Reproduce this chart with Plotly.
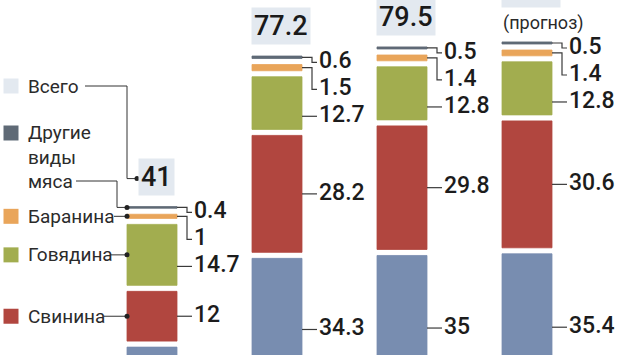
import plotly.graph_objects as go

# ---------------- data ----------------
bars = ["1", "2", "3", "4"]
poultry = [12.9, 34.3, 35.0, 35.4]      # bottom (blue)
pork = [12.0, 28.2, 29.8, 30.6]         # Свинина
beef = [14.7, 12.7, 12.8, 12.8]         # Говядина
lamb = [1.0, 1.5, 1.4, 1.4]             # Баранина
other = [0.4, 0.6, 0.5, 0.5]            # Другие виды мяса
totals = ["41", "77.2", "79.5", "80.7"]
notes = ["", "", "", "(прогноз)"]
value_labels = {
    "poultry": ["12.9", "34.3", "35", "35.4"],
    "pork": ["12", "28.2", "29.8", "30.6"],
    "beef": ["14.7", "12.7", "12.8", "12.8"],
    "lamb": ["1", "1.5", "1.4", "1.4"],
    "other": ["0.4", "0.6", "0.5", "0.5"],
}
legend_names = ["Всего", "Другие<br>виды<br>мяса", "Баранина", "Говядина", "Свинина"]

# ---------------- styles / geometry ----------------
W, H = 630, 355
X_RANGE = [-1.216, 3.824]
Y_RANGE = [11.0, 96.6]
kx = W / (X_RANGE[1] - X_RANGE[0])
ky = H / (Y_RANGE[1] - Y_RANGE[0])


def px2x(p):
    return X_RANGE[0] + p / kx


def py2y(p):
    return Y_RANGE[1] - p / ky


def dx(p):
    return p / kx


def dy(p):
    return p / ky


BAR_W = 0.4
GAP = dy(6)
FONT = "Roboto"
C_TOTAL = "#e3e9f0"
series = [
    ("poultry", poultry, "#788db0"),
    ("pork", pork, "#b1463f"),
    ("beef", beef, "#a2ad4f"),
    ("lamb", lamb, "#e9a55a"),
    ("other", other, "#5f6a76"),
]
xs = list(range(len(bars)))

fig = go.Figure()

# stacked bars with white gaps
bases = {}
tops = []
for i in xs:
    acc = 0.0
    for j, (key, vals, col) in enumerate(series):
        bases.setdefault(key, []).append(acc)
        acc += vals[i] + GAP
    tops.append(acc - GAP)

for key, vals, col in series:
    fig.add_trace(go.Bar(
        x=xs, y=vals, base=bases[key], width=BAR_W,
        marker=dict(color=col, line=dict(color=col, width=0.8)),
        hoverinfo="skip", showlegend=False,
    ))

# value labels with connectors (placed top-down, avoiding overlaps)
SPACING = dy(27)
lab_x, lab_y, lab_t = [], [], []
lx, ly = [], []
for i in xs:
    edge = i + BAR_W / 2
    prev = None
    for key, vals, col in reversed(series):
        b = bases[key][i]
        t = b + vals[i]
        c = (b + t) / 2
        if prev is None:
            y = c - dy(5)
        else:
            y = min(c, prev - SPACING)
        prev = y
        if y < Y_RANGE[0]:
            continue  # outside the visible crop
        tx = edge + dx(17)
        lab_x.append(tx)
        lab_y.append(y)
        lab_t.append(value_labels[key][i])
        if b <= y <= t:
            lx += [edge, tx - dx(2), None]
            ly += [y, y, None]
        else:
            ex = edge + dx(10)
            lx += [edge, ex, ex, tx - dx(2), None]
            ly += [c, c, y, y, None]

fig.add_trace(go.Scatter(x=lx, y=ly, mode="lines",
                         line=dict(color="#3a3a3a", width=1.2),
                         hoverinfo="skip", showlegend=False))
fig.add_trace(go.Scatter(x=lab_x, y=lab_y, mode="text", text=lab_t,
                         textposition="middle right",
                         textfont=dict(family=FONT, size=23, color="#1c1c1c", weight=500),
                         hoverinfo="skip", showlegend=False))

# totals
for i in xs:
    shift = 11 + (23 if notes[i] else 0)
    fig.add_annotation(x=i, y=tops[i], xref="x", yref="y", text=totals[i],
                       showarrow=False, yanchor="bottom", xanchor="center",
                       xshift=4, yshift=shift, bgcolor=C_TOTAL, borderpad=2,
                       font=dict(family=FONT, size=27, color="#1a1a1a", weight=500))
    if notes[i]:
        fig.add_annotation(x=i, y=tops[i], xref="x", yref="y", text=notes[i],
                           showarrow=False, yanchor="bottom", xanchor="center",
                           xshift=16, yshift=6,
                           font=dict(family=FONT, size=18, color="#2a2a2a"))

# legend (left side) linked to first bar
b0 = 0
left0 = b0 - BAR_W / 2
cen = {k: bases[k][b0] + v[b0] / 2 for k, v, _ in series}
box_mid = tops[b0] + dy(11 + 17)
leg_y = [py2y(86), py2y(157), cen["lamb"], cen["beef"], cen["pork"]]
sq_y = [py2y(86), py2y(133), cen["lamb"], cen["beef"], cen["pork"]]
sq_col = [C_TOTAL, "#5f6a76", "#e9a55a", "#a2ad4f", "#b1463f"]
fig.add_trace(go.Scatter(x=[px2x(11)] * 5, y=sq_y, mode="markers",
                         marker=dict(symbol="square", size=15, color=sq_col, line=dict(width=0)),
                         hoverinfo="skip", showlegend=False, cliponaxis=False))
for name, y in zip(legend_names, leg_y):
    fig.add_annotation(x=px2x(26), y=y, xref="x", yref="y", text=name, showarrow=False,
                       xanchor="left", yanchor="middle", align="left",
                       font=dict(family=FONT, size=19, color="#2b2b2b"))

gx, gy = [], []
# Всего -> total box
gx += [px2x(85), left0, left0, left0 + dx(10), None]
gy += [py2y(86), py2y(86), box_mid, box_mid, None]
# Другие виды мяса -> other segment
gx += [px2x(76), left0 - dx(10), left0 - dx(10), left0, None]
gy += [py2y(181), py2y(181), cen["other"], cen["other"], None]
for start, k in [(114, "lamb"), (110, "beef"), (104, "pork")]:
    gx += [px2x(start), left0, None]
    gy += [cen[k], cen[k], None]
fig.add_trace(go.Scatter(x=gx, y=gy, mode="lines", line=dict(color="#333333", width=1),
                         hoverinfo="skip", showlegend=False))
fig.add_trace(go.Scatter(
    x=[left0 + dx(10), left0, left0, left0, left0],
    y=[box_mid, cen["other"], cen["lamb"], cen["beef"], cen["pork"]],
    mode="markers", marker=dict(color="#222222", size=5),
    hoverinfo="skip", showlegend=False))

fig.update_layout(
    width=W, height=H, margin=dict(l=0, r=0, t=0, b=0),
    paper_bgcolor="white", plot_bgcolor="white",
    barmode="overlay", showlegend=False,
    xaxis=dict(range=X_RANGE, visible=False, fixedrange=True),
    yaxis=dict(range=Y_RANGE, visible=False, fixedrange=True),
)

fig.write_html("out.html")
